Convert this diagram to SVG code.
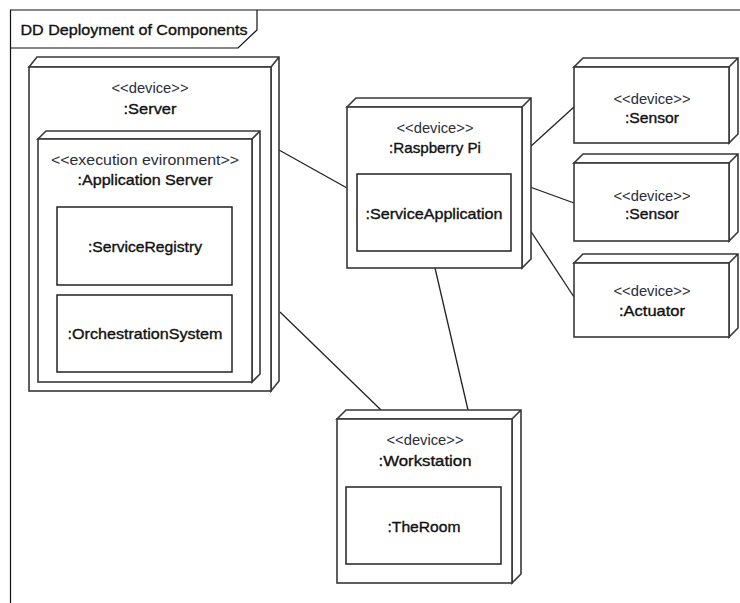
<svg xmlns="http://www.w3.org/2000/svg" width="740" height="603" viewBox="0 0 740 603">
<style>
text{font-family:"Liberation Sans",Arial,sans-serif;font-size:15px;text-anchor:middle;dominant-baseline:central}
.st{fill:#2b2b3a}
.nm{fill:#111;stroke:#111;stroke-width:0.35}
.face{fill:#fff;stroke:#383838;stroke-width:1.6;stroke-linejoin:miter}
.box{fill:#fff;stroke:#222;stroke-width:1.5}
.conn line{stroke:#222;stroke-width:1.3}
.frame{fill:none;stroke:#111;stroke-width:1.2}
</style>
<rect x="0" y="0" width="740" height="603" fill="#fff"/>
<g id="frame">
<path class="frame" d="M740,10 H10.5 V603"/>
<path class="frame" d="M10.5,48 H238 L257,30 V10"/>
<text class="nm" x="134" y="29" textLength="227" lengthAdjust="spacingAndGlyphs">DD Deployment of Components</text>
</g>
<g class="conn" id="connectors">
<line x1="279" y1="150" x2="347" y2="188"/>
<line x1="280" y1="312" x2="381" y2="410"/>
<line x1="435" y1="268" x2="468" y2="410"/>
<line x1="530" y1="147" x2="574" y2="107"/>
<line x1="530" y1="187" x2="574" y2="203"/>
<line x1="530" y1="230" x2="574" y2="297"/>
</g>
<g id="server">
<path class="face" d="M29,67 L37,57 H279 V381 L271,391 V67 Z M271,67 L279,57"/>
<rect class="face" x="29" y="67" width="242" height="324"/>
<text class="st" x="150" y="87" textLength="77" lengthAdjust="spacingAndGlyphs">&lt;&lt;device&gt;&gt;</text>
<text class="nm" x="150" y="108" textLength="53" lengthAdjust="spacingAndGlyphs">:Server</text>
</g>
<g id="appserver">
<path class="face" d="M38,139 L46,131 H260 V374 L252,382 V139 Z M252,139 L260,131"/>
<rect class="face" x="38" y="139" width="214" height="243"/>
<text class="st" x="145" y="159" textLength="188" lengthAdjust="spacingAndGlyphs">&lt;&lt;execution evironment&gt;&gt;</text>
<text class="nm" x="145" y="179" textLength="135" lengthAdjust="spacingAndGlyphs">:Application Server</text>
</g>
<g id="serviceregistry">
<rect class="box" x="57" y="207" width="175" height="78"/>
<text class="nm" x="145" y="246" textLength="114" lengthAdjust="spacingAndGlyphs">:ServiceRegistry</text>
</g>
<g id="orchestration">
<rect class="box" x="57" y="295" width="175" height="77"/>
<text class="nm" x="145" y="333" textLength="155" lengthAdjust="spacingAndGlyphs">:OrchestrationSystem</text>
</g>
<g id="raspberrypi">
<path class="face" d="M347,107 L356,98 H531 V259 L522,268 V107 Z M522,107 L531,98"/>
<rect class="face" x="347" y="107" width="175" height="161"/>
<text class="st" x="435" y="127" textLength="77" lengthAdjust="spacingAndGlyphs">&lt;&lt;device&gt;&gt;</text>
<text class="nm" x="435" y="147" textLength="92" lengthAdjust="spacingAndGlyphs">:Raspberry Pi</text>
</g>
<g id="serviceapplication">
<rect class="box" x="357" y="174" width="154" height="77"/>
<text class="nm" x="434" y="213" textLength="137" lengthAdjust="spacingAndGlyphs">:ServiceApplication</text>
</g>
<g id="sensor1">
<path class="face" d="M574,67 L583,58 H738 V134 L729,143 V67 Z M729,67 L738,58"/>
<rect class="face" x="574" y="67" width="155" height="76"/>
<text class="st" x="652" y="98" textLength="77" lengthAdjust="spacingAndGlyphs">&lt;&lt;device&gt;&gt;</text>
<text class="nm" x="652" y="117" textLength="54" lengthAdjust="spacingAndGlyphs">:Sensor</text>
</g>
<g id="sensor2">
<path class="face" d="M574,163 L583,154 H738 V232 L729,241 V163 Z M729,163 L738,154"/>
<rect class="face" x="574" y="163" width="155" height="78"/>
<text class="st" x="652" y="195" textLength="77" lengthAdjust="spacingAndGlyphs">&lt;&lt;device&gt;&gt;</text>
<text class="nm" x="652" y="213" textLength="54" lengthAdjust="spacingAndGlyphs">:Sensor</text>
</g>
<g id="actuator">
<path class="face" d="M574,263 L583,254 H738 V328 L729,337 V263 Z M729,263 L738,254"/>
<rect class="face" x="574" y="263" width="155" height="74"/>
<text class="st" x="652" y="290" textLength="77" lengthAdjust="spacingAndGlyphs">&lt;&lt;device&gt;&gt;</text>
<text class="nm" x="652" y="310" textLength="66" lengthAdjust="spacingAndGlyphs">:Actuator</text>
</g>
<g id="workstation">
<path class="face" d="M337,419 L346,410 H521 V574 L512,583 V419 Z M512,419 L521,410"/>
<rect class="face" x="337" y="419" width="175" height="164"/>
<text class="st" x="425" y="439" textLength="77" lengthAdjust="spacingAndGlyphs">&lt;&lt;device&gt;&gt;</text>
<text class="nm" x="425" y="460" textLength="93" lengthAdjust="spacingAndGlyphs">:Workstation</text>
</g>
<g id="theroom">
<rect class="box" x="346" y="487" width="155" height="77"/>
<text class="nm" x="424" y="526" textLength="73" lengthAdjust="spacingAndGlyphs">:TheRoom</text>
</g>
</svg>
